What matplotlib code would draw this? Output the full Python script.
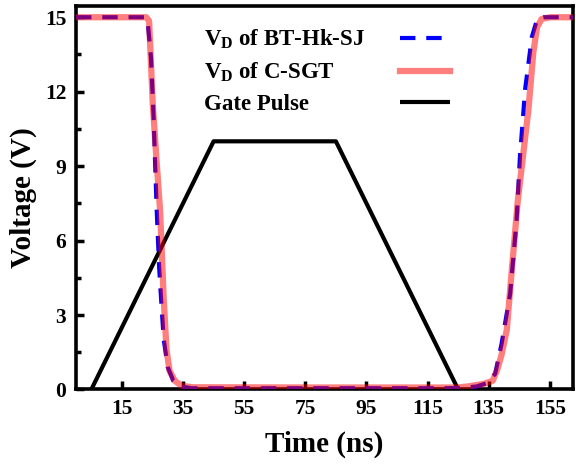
import matplotlib
matplotlib.use("Agg")
import matplotlib.pyplot as plt
from matplotlib.ticker import MultipleLocator

plt.rcParams['font.family'] = ['Liberation Serif', 'DejaVu Serif']
plt.rcParams['font.weight'] = 'bold'
plt.rcParams['mathtext.fontset'] = 'custom'
plt.rcParams['mathtext.rm'] = 'Liberation Serif:bold'
plt.rcParams['mathtext.bf'] = 'Liberation Serif:bold'
plt.rcParams['mathtext.default'] = 'bf'

# Drain voltage of the C-SGT device (ns, V)
t_csgt = [0, 23.0, 23.9, 25.1, 26.3, 27.5, 28.1, 28.7, 29.6, 30.6, 32.3, 34.5, 38,
          80, 120, 124.5, 128, 133.2, 136.3, 137.8, 139.2, 140.9, 142.6, 144.5,
          146.2, 148.0, 149.6, 150.8, 152.3, 155, 163]
v_csgt = [15, 15, 14.85, 11.5, 9.3, 7.2, 5.4, 3.6, 1.6, 0.75, 0.35, 0.15, 0.09,
          0.08, 0.08, 0.08, 0.12, 0.22, 0.35, 0.8, 1.4, 2.4, 4.9, 7.6,
          9.4, 11.3, 13.6, 14.6, 14.93, 15, 15]

# Drain voltage of the BT-Hk-SJ device
t_bt = [0, 22.6, 23.4, 24.5, 25.3, 25.9, 26.4, 27.2, 28.0, 28.7, 30.0, 31.8, 34.0, 38,
        80, 120, 126, 131, 134.3, 137.1, 139.2, 142.0, 144.1, 145.2, 146.9,
        149.1, 150.9, 153, 163]
v_bt = [15, 15, 14.85, 13.4, 11.2, 9.0, 7.2, 4.9, 3.3, 2.0, 0.9, 0.35, 0.12, 0.05,
        0.05, 0.05, 0.06, 0.12, 0.25, 0.63, 1.84, 3.86, 6.8, 9.37, 12.1,
        14.2, 14.95, 15, 15]

# Gate pulse
t_gate = [5, 45, 85, 125]
v_gate = [0, 10, 10, 0]

labels = [r'V$_\mathbf{D}$ of BT-Hk-SJ', r'V$_\mathbf{D}$ of C-SGT', 'Gate Pulse']

fig = plt.figure(figsize=(5.76, 4.67), dpi=100)
ax = fig.add_axes([0.132, 0.166, 0.863, 0.821])

l_gate, = ax.plot(t_gate, v_gate, color='black', lw=3.0, solid_capstyle='butt', zorder=2)
l_bt, = ax.plot(t_bt, v_bt, color='blue', lw=3.0, dashes=(3.7, 2.6), zorder=3)
l_csgt, = ax.plot(t_csgt, v_csgt, color='red', alpha=0.5, lw=4.5, zorder=4)

ax.set_xlim(0, 162.6)
ax.set_ylim(0, 15.45)
ax.set_xticks([15, 35, 55, 75, 95, 115, 135, 155])
ax.yaxis.set_major_locator(MultipleLocator(3))
ax.yaxis.set_minor_locator(MultipleLocator(1.5))

ax.tick_params(axis='both', which='major', direction='in', length=6, width=2.5,
               labelsize=15.5, pad=7)
ax.tick_params(axis='y', which='minor', direction='in', length=3.5, width=2.5)
for s in ax.spines.values():
    s.set_linewidth(2.6)

ax.set_xlabel('Time (ns)', fontsize=21, fontweight='bold', labelpad=8)
ax.set_ylabel('Voltage (V)', fontsize=21, fontweight='bold', labelpad=6)

# labels on the left (left-aligned), line samples in a second legend on the right
handles = [l_bt, l_csgt, l_gate]
leg_kw = dict(frameon=False, fontsize=16.5, labelspacing=0.42, borderaxespad=0)
text_leg = ax.legend(handles, labels, loc='upper left', bbox_to_anchor=(0.24, 0.967),
                     handlelength=0, handletextpad=0, **leg_kw)
for h in text_leg.legend_handles:
    h.set_visible(False)
ax.add_artist(text_leg)

line_leg = ax.legend(handles, labels, loc='upper left', bbox_to_anchor=(0.634, 0.967),
                     handlelength=2.18, handletextpad=0, **leg_kw)
for txt in line_leg.get_texts():
    txt.set_alpha(0)

fig.savefig('out.png', dpi=100)
